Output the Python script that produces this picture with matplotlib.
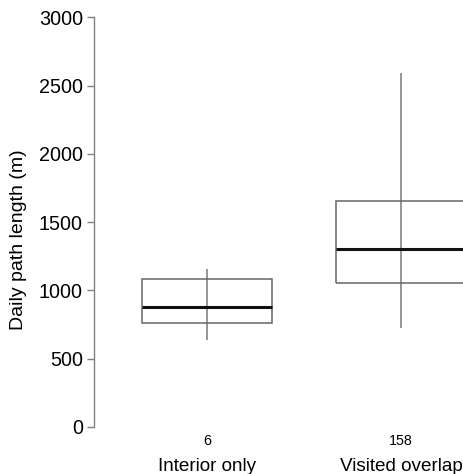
import matplotlib.pyplot as plt
from matplotlib.patches import Rectangle

plt.rcParams['font.family'] = ['Liberation Sans', 'DejaVu Sans']

# Werte
categories = ["Interior only", "Visited overlap"]
counts = ["6", "158"]
whisk_lo = [635, 725]
q1 = [757, 1050]
median = [875, 1302]
q3 = [1084, 1656]
whisk_hi = [1155, 2589]
yticks = [0, 500, 1000, 1500, 2000, 2500, 3000]

fig = plt.figure(figsize=(4.64, 4.74), dpi=100)
ax = fig.add_axes([94 / 464, 0.0565, 1 - 94 / 464, 0.9358])

positions = [1, 2]
half_w = 0.333
line_col = '#7a7a7a'

for i, x in enumerate(positions):
    # vertikale Linie durch die ganze Spannweite
    ax.vlines(x, whisk_lo[i], whisk_hi[i], color=line_col, linewidth=1.1, zorder=2)
    ax.add_patch(Rectangle((x - half_w, q1[i]), 2 * half_w, q3[i] - q1[i],
                           facecolor='none', edgecolor='#666666', linewidth=1.1, zorder=2))
    ax.hlines(median[i], x - half_w, x + half_w, color='#111111', linewidth=2.2, zorder=3)
    ax.text(x, -134, counts[i], ha='center', va='baseline', fontsize=10.3)
    ax.text(x, -325, categories[i], ha='center', va='baseline', fontsize=13.6)

ax.set_xlim(0.417, 2.325)
ax.set_ylim(-150, 3100)
ax.set_yticks(yticks)
ax.set_yticklabels([str(t) for t in yticks], fontsize=14.2)
ax.tick_params(axis='y', length=5, width=1, color='#808080', pad=3)
ax.set_xticks([])

for s in ['top', 'right', 'bottom']:
    ax.spines[s].set_visible(False)
ax.spines['left'].set_bounds(0, 3000)
ax.spines['left'].set_color('#808080')
ax.spines['left'].set_linewidth(1)

ax.set_ylabel("Daily path length (m)", fontsize=14)
ax.yaxis.set_label_coords(-(94 - 27) / 370, (474 - 240 - 26.8) / 443.6)

fig.savefig("out.png", dpi=100)
